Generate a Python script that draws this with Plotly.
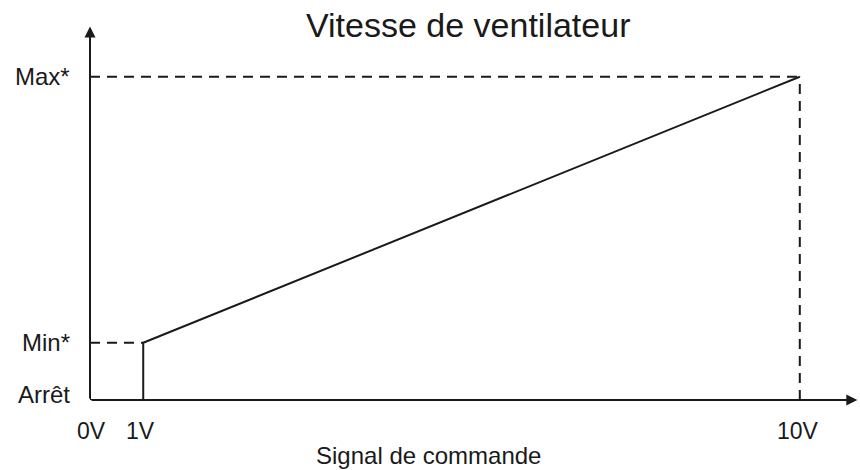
import plotly.graph_objects as go

# Fan speed levels on the vertical axis (fraction of max speed, schematic)
speed_labels = ["Arrêt", "Min*", "Max*"]
speed_levels = [0.0, 0.177, 1.0]

# Control signal ticks: label and schematic position along the horizontal axis
signal_labels = ["0V", "1V", "10V"]
signal_pos = [0.0, 0.75, 10.0]

# Characteristic curve: off below 1V, jump to Min at 1V, linear to Max at 10V
curve_x = [signal_pos[1], signal_pos[1], signal_pos[2]]
curve_y = [speed_levels[0], speed_levels[1], speed_levels[2]]

x_max = 10.82
y_max = 1.16

font = "Liberation Sans, Arial, sans-serif"
ink = "#1a1a1a"

# Plot area in pixels
L, R, T, B = 90, 2, 25, 70
W, H = 860, 470
pw, ph = W - L - R, H - T - B


def px(xp):
    return (xp - L) / pw


def py(yp):
    return (H - B - yp) / ph


fig = go.Figure()

# Main curve
fig.add_trace(go.Scatter(x=curve_x, y=curve_y, mode="lines",
                         line=dict(color=ink, width=2), hoverinfo="skip"))

# Dashed guide lines
dash = dict(color=ink, width=2, dash="10px,7px")
fig.add_trace(go.Scatter(x=[0, signal_pos[1]], y=[speed_levels[1]] * 2, mode="lines",
                         line=dash, hoverinfo="skip"))
fig.add_trace(go.Scatter(x=[0, signal_pos[2]], y=[speed_levels[2]] * 2, mode="lines",
                         line=dash, hoverinfo="skip"))
fig.add_trace(go.Scatter(x=[signal_pos[2]] * 2, y=[speed_levels[0], speed_levels[2]], mode="lines",
                         line=dash, hoverinfo="skip"))

annotations = []
# Axis arrows
annotations.append(dict(x=0, y=y_max - 0.005, ax=0, ay=0, xref="x", yref="y", axref="x", ayref="y",
                        showarrow=True, arrowhead=2, arrowsize=1.1, arrowwidth=2,
                        arrowcolor=ink, text=""))
annotations.append(dict(x=x_max - 0.01, y=0, ax=0, ay=0, xref="x", yref="y", axref="x", ayref="y",
                        showarrow=True, arrowhead=2, arrowsize=1.1, arrowwidth=2,
                        arrowcolor=ink, text=""))

# Speed level labels
for lab, lvl in zip(speed_labels, speed_levels):
    annotations.append(dict(x=0, y=lvl, xref="x", yref="y", text=lab, showarrow=False,
                            xanchor="right", yanchor="middle", xshift=-18,
                            yshift=6 if lvl == 0 else 0,
                            font=dict(family=font, size=24, color=ink)))

# Signal tick labels
label_px = [91, 140, 798]
for lab, xp in zip(signal_labels, label_px):
    annotations.append(dict(x=px(xp), y=py(431), xref="paper", yref="paper", text=lab,
                            showarrow=False, xanchor="center", yanchor="middle",
                            font=dict(family=font, size=23, color=ink)))

# Axis title
annotations.append(dict(x=px(428), y=py(455), xref="paper", yref="paper",
                        text="Signal de commande", showarrow=False,
                        xanchor="center", yanchor="middle",
                        font=dict(family=font, size=24, color=ink)))

# Chart title
annotations.append(dict(x=px(468), y=py(25), xref="paper", yref="paper",
                        text="Vitesse de ventilateur", showarrow=False,
                        xanchor="center", yanchor="middle",
                        font=dict(family=font, size=34, color=ink)))

fig.update_layout(
    width=W, height=H,
    margin=dict(l=L, r=R, t=T, b=B),
    paper_bgcolor="white", plot_bgcolor="white",
    showlegend=False,
    xaxis=dict(range=[0, x_max], visible=False, fixedrange=True),
    yaxis=dict(range=[0, y_max], visible=False, fixedrange=True),
    annotations=annotations,
)

# Axis lines
fig.add_shape(type="line", x0=0, x1=0, y0=0, y1=y_max - 0.02, xref="x", yref="y",
              line=dict(color=ink, width=2))
fig.add_shape(type="line", x0=0, x1=x_max - 0.05, y0=0, y1=0, xref="x", yref="y",
              line=dict(color=ink, width=2))

fig.write_html("out.html")
